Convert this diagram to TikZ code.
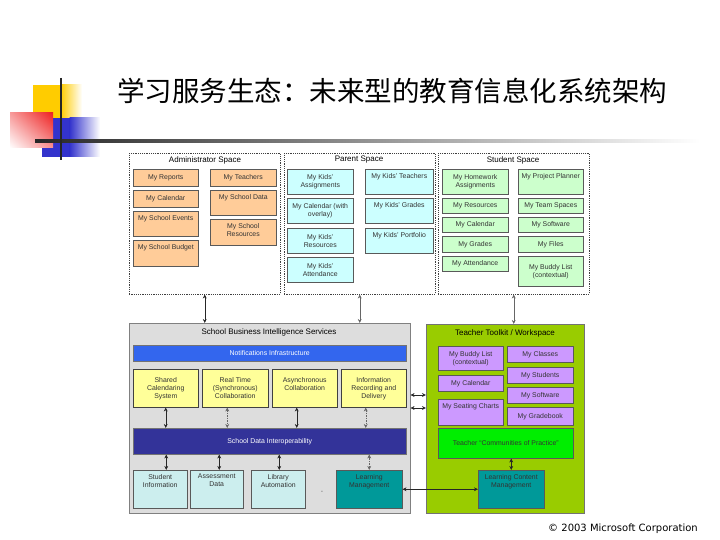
\documentclass[tikz,border=0pt]{standalone}
\usepackage{fontspec}
\setmainfont{Liberation Sans}
\newfontfamily\cjk{Noto Sans CJK SC}
\newfontfamily\dejavu{DejaVu Sans}
\usetikzlibrary{arrows.meta,shadings}
\definecolor{admc}{HTML}{FFCC99}
\definecolor{parc}{HTML}{CCFFFF}
\definecolor{stuc}{HTML}{CCFFCC}
\definecolor{yelc}{HTML}{FFFF99}
\definecolor{notc}{HTML}{3366EE}
\definecolor{sdic}{HTML}{333399}
\definecolor{lcyc}{HTML}{CCEEEE}
\definecolor{tealc}{HTML}{009999}
\definecolor{tchc}{HTML}{99CC00}
\definecolor{purc}{HTML}{CC99FF}
\definecolor{copc}{HTML}{00EE00}
\definecolor{grayc}{HTML}{DDDDDD}
\definecolor{decy}{HTML}{FFCC00}
\definecolor{decb}{HTML}{3333CC}
\definecolor{decr}{HTML}{EE2222}
\newcommand\boxc[7]{\node[#1,anchor=north west,minimum width=#5pt,minimum height=#6pt] (#2) at (#3,#4) {#7};}
\newcommand\boxt[7]{\node[#1,anchor=north west,minimum width=#5pt,minimum height=#6pt] (#2) at (#3,#4) {}; \node[txt,anchor=north] (#2-t) at ([yshift=-3.5pt]#2.north) {#7};}
\begin{document}
\begin{tikzpicture}[x=1pt,y=-1pt,
  txt/.style={inner sep=0.5pt, align=center, font=\fontsize{6.9}{8}\selectfont, text=black!80},
  bx/.style={draw=black!65, line width=0.5pt, inner sep=1pt, align=center, font=\fontsize{6.9}{8}\selectfont, text=black!80},
  abox/.style={bx, fill=admc},
  pbox/.style={bx, fill=parc},
  sbox/.style={bx, fill=stuc},
  ybox/.style={bx, fill=yelc, draw=black!75},
  cbox/.style={bx, fill=lcyc},
  tbox/.style={bx, fill=tealc},
  ubox/.style={bx, fill=purc},
  space/.style={draw=black!75, dash pattern=on 1.2pt off 1pt, line width=0.5pt, inner sep=0pt},
  hdr/.style={inner sep=0pt, font=\fontsize{8}{9.5}\selectfont},
  bar/.style={draw=black!55, line width=0.5pt, text=white, font=\fontsize{6.9}{8}\selectfont},
  arr/.style={{Stealth[length=4pt,width=3.8pt]}-{Stealth[length=4pt,width=3.8pt]}, line width=0.5pt, black!85},
  arrd/.style={arr, black!60, dash pattern=on 1.5pt off 1pt}
]
\useasboundingbox[fill=white] (0,0) rectangle (720,540);

% decoration
\fill[decy] (33,85) rectangle (61,118);
\shade[left color=decy, right color=white] (60.5,85) rectangle (82,118);
\fill[decb] (42,118) rectangle (70,157);
\shade[left color=decb, right color=white] (69.5,118) rectangle (100,157);
\shade[upper left=decr!45, upper right=decr, lower left=white, lower right=decr!50] (10,113) rectangle (53,148);
\shade[left color=black!85, middle color=black!55, right color=white] (35,139.5) rectangle (700,142.5);
\draw[line width=2.5pt, black!85] (61,78) -- (61,160);

% title
\node[font=\cjk\fontsize{27.5}{30}\selectfont, anchor=west, inner sep=0pt] (title) at (117,91) {学习服务生态：未来型的教育信息化系统架构};

% spaces
\node[space, anchor=north west, minimum width=151pt, minimum height=141pt] (adm) at (129,153) {};
\node[space, anchor=north west, minimum width=151pt, minimum height=141pt] (par) at (284,153) {};
\node[space, anchor=north west, minimum width=151pt, minimum height=141pt] (stu) at (438,153) {};
\node[hdr] (admh) at (205,160) {Administrator Space};
\node[hdr] (parh) at (359,160) {Parent Space};
\node[hdr] (stuh) at (513,160) {Student Space};

% administrator
\boxc{abox}{rep}{133}{169}{65}{17}{My Reports}
\boxc{abox}{acal}{133}{190}{65}{17}{My Calendar}
\boxt{abox}{evt}{133}{211}{65}{25}{My School Events}
\boxt{abox}{bud}{133}{240}{65}{26}{My School Budget}
\boxc{abox}{tea}{210}{169}{66}{17}{My Teachers}
\boxt{abox}{dat}{210}{190}{66}{25}{My School Data}
\boxt{abox}{res}{210}{219}{66}{26}{My School\\Resources}

% parent
\boxc{pbox}{pa}{287}{169}{66}{25}{My Kids'\\Assignments}
\boxc{pbox}{pc}{287}{198}{66}{25}{My Calendar (with\\overlay)}
\boxc{pbox}{pr}{287}{228}{66}{25}{My Kids'\\Resources}
\boxc{pbox}{pat}{287}{257}{66}{25}{My Kids'\\Attendance}
\boxt{pbox}{pt}{365}{169}{68}{25}{My Kids' Teachers}
\boxt{pbox}{pg}{365}{198}{68}{25}{My Kids' Grades}
\boxt{pbox}{pp}{365}{228}{68}{25}{My Kids' Portfolio}

% student
\boxc{sbox}{sh}{442}{169}{66}{25}{My Homework\\Assignments}
\boxc{sbox}{sr}{442}{198}{66}{15}{My Resources}
\boxc{sbox}{sc}{442}{217}{66}{15}{My Calendar}
\boxc{sbox}{sg}{442}{236}{66}{16}{My Grades}
\boxc{sbox}{sa}{442}{256}{66}{15}{My Attendance}
\boxt{sbox}{spp}{518}{169}{65}{25}{My Project Planner}
\boxc{sbox}{sts}{518}{198}{65}{15}{My Team Spaces}
\boxc{sbox}{ssw}{518}{217}{65}{15}{My Software}
\boxc{sbox}{sf}{518}{236}{65}{16}{My Files}
\boxc{sbox}{sb}{518}{256}{65}{30}{My Buddy List\\(contextual)}

% school business intelligence services
\node[draw=black!50, fill=grayc, line width=0.5pt, anchor=north west, minimum width=281pt, minimum height=190pt, inner sep=0pt] (sbis) at (129,323) {};
\node[hdr] (sbish) at (269,332) {School Business Intelligence Services};
\node[bar, fill=notc, anchor=north west, minimum width=273pt, minimum height=16pt, inner sep=0pt] (notif) at (133,345) {Notifications Infrastructure};
\boxc{ybox}{y1}{133}{369}{65}{38}{Shared\\Calendaring\\System}
\boxc{ybox}{y2}{202}{369}{66}{38}{Real Time\\(Synchronous)\\Collaboration}
\boxc{ybox}{y3}{272}{369}{65}{38}{Asynchronous\\Collaboration\\\mbox{}}
\boxc{ybox}{y4}{341}{369}{65}{38}{Information\\Recording and\\Delivery}
\node[bar, fill=sdic, anchor=north west, minimum width=273pt, minimum height=26pt, inner sep=0pt] (sdi) at (133,428) {School Data Interoperability};
\boxt{cbox}{b1}{133}{470}{54}{38}{Student\\Information}
\boxt{cbox}{b2}{190}{470}{53}{38}{Assessment\\Data}
\boxt{cbox}{b3}{251}{470}{54}{38}{Library\\Automation}
\boxt{tbox}{lm}{336}{470}{66}{38}{Learning\\Management}
\node[txt, text=black!60] (dash) at (322,492) {-};

% teacher toolkit
\node[draw=black!55, fill=tchc, line width=0.5pt, anchor=north west, minimum width=158pt, minimum height=189pt, inner sep=0pt] (tch) at (426,324) {};
\node[hdr] (tchh) at (505,333) {Teacher Toolkit / Workspace};
\boxc{ubox}{tbl}{438}{346}{65}{24}{My Buddy List\\(contextual)}
\boxc{ubox}{tcal}{438}{375}{65}{16}{My Calendar}
\boxt{ubox}{tsc}{438}{399}{65}{26}{My Seating Charts}
\boxc{ubox}{tcl}{507}{346}{66}{16}{My Classes}
\boxc{ubox}{tst}{507}{367}{66}{16}{My Students}
\boxc{ubox}{tsw}{507}{387}{66}{16}{My Software}
\boxc{ubox}{tgb}{507}{407}{66}{18}{My Gradebook}
\node[bx, fill=copc, anchor=north west, minimum width=135pt, minimum height=30pt] (tcp) at (438,428) {Teacher “Communities of Practice”};
\boxt{tbox}{lcm}{478}{470}{66}{38}{Learning Content\\Management}

% connectors
\draw[arr] (adm.south) -- (adm.south |- sbis.north);
\draw[arr, black!60] (par.south) -- (par.south |- sbis.north);
\draw[arr, black!60] (stu.south) -- (stu.south |- tch.north);
\draw[arr] (y1.south) -- (y1.south |- sdi.north);
\draw[arrd] ([xshift=-8pt]y2.south) -- ([xshift=-8pt]y2.south |- sdi.north);
\draw[arr] ([xshift=-8pt]y3.south) -- ([xshift=-8pt]y3.south |- sdi.north);
\draw[arrd] ([xshift=-8pt]y4.south) -- ([xshift=-8pt]y4.south |- sdi.north);
\draw[arr] ([xshift=6pt]b1.north) -- ([xshift=6pt]b1.north |- sdi.south);
\draw[arr] ([xshift=2.5pt]b2.north) -- ([xshift=2.5pt]b2.north |- sdi.south);
\draw[arr] ([xshift=1pt]b3.north) -- ([xshift=1pt]b3.north |- sdi.south);
\draw[arrd] (lm.north) -- (lm.north |- sdi.south);
\coordinate (r1) at (0,395);
\coordinate (r2) at (0,408);
\draw[arr] (sbis.east |- r1) -- (tch.west |- r1);
\draw[arr] (sbis.east |- r2) -- (tch.west |- r2);
\draw[arr] (lm.east) -- (lcm.west);
\draw[arr] (lcm.north) -- (lcm.north |- tcp.south);

% copyright
\node[font=\dejavu\fontsize{10}{12}\selectfont, anchor=east, inner sep=0pt] (copy) at (698,529) {© 2003 Microsoft Corporation};
\end{tikzpicture}
\end{document}
